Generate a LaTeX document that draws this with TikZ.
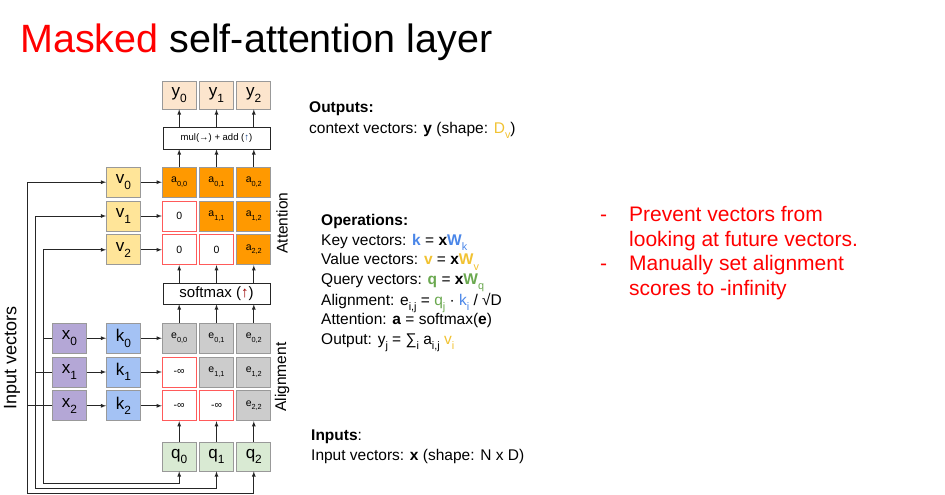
\documentclass[tikz,border=0pt]{standalone}
\usepackage{fontspec}
\setmainfont{Liberation Sans}
\usepackage{xcolor}
\usepackage{tikz}
\usetikzlibrary{matrix}
\usetikzlibrary{arrows}

\definecolor{titlered}{HTML}{FF0000}
\definecolor{edge}{HTML}{999999}
\definecolor{maskred}{HTML}{FF5A5A}
\definecolor{peach}{HTML}{FCE5CD}
\definecolor{attorange}{HTML}{FF9900}
\definecolor{vyellow}{HTML}{FFE599}
\definecolor{xpurple}{HTML}{B4A7D6}
\definecolor{kblue}{HTML}{A4C2F4}
\definecolor{egray}{HTML}{CCCCCC}
\definecolor{qgreen}{HTML}{D9EAD3}
\definecolor{kcol}{HTML}{4A86E8}
\definecolor{vgold}{HTML}{F1C232}
\definecolor{qcol}{HTML}{6AA84F}
\definecolor{arrowblue}{HTML}{1C4587}
\definecolor{arrowred}{HTML}{990000}

\makeatletter
\newcommand{\lo}[1]{\raisebox{-0.33em}{\fontsize{\strip@pt\dimexpr0.7\dimexpr\f@size pt\relax\relax}{0pt}\selectfont #1}}
\makeatother

\begin{document}
\begin{tikzpicture}[x=1pt,y=-1pt]

\tikzset{cell matrix/.style={
    matrix of nodes, column sep=2.5pt, row sep=3pt, inner sep=0pt,
    nodes={draw=edge, line width=0.8pt,
      minimum height=#1, anchor=center, text width=34pt, align=center, inner
      sep=0pt
    },
  }, cell matrix/.default=30pt,
  masked/.style={fill=white, draw=maskred},
  wide box/.style={draw=black!85, line width=0.8pt, minimum width=107pt, inner sep=0pt},
  link/.style={-latex, draw=black!85, line width=0.8pt},
  big/.style={font=\fontsize{17}{20}\selectfont},
  small/.style={font=\fontsize{10.5}{12}\selectfont},
  side label/.style={rotate=90, inner sep=0pt, font=\fontsize{15.5}{18}\selectfont},
  note/.style={anchor=north west, inner sep=0pt, align=left}
}
\path[use as bounding box] (0,0) rectangle (945,495);

\node[anchor=base west, inner sep=0pt, font=\fontsize{39.5}{47}\selectfont] (title) at (20,53)
  {\textcolor{titlered}{Masked} self-attention layer};

\matrix[cell matrix=28pt, nodes={fill=peach, big}] (out) at (216.5,95)
  {y\lo{0} & y\lo{1} & y\lo{2} \\};
\node[wide box, minimum height=22pt, font=\fontsize{9.5}{11}\selectfont] (mul) at (216.5,138)
  {mul(→) + add (\textcolor{arrowblue}{↑})};
\matrix[cell matrix, nodes={fill=attorange, small}] (att) at (216.5,216)
  {a\lo{0,0} & a\lo{0,1} & a\lo{0,2} \\
   |[masked]| 0 & a\lo{1,1} & a\lo{1,2} \\
   |[masked]| 0 & |[masked]| 0 & a\lo{2,2} \\};
\node[wide box, minimum height=21pt, font=\fontsize{15}{18}\selectfont] (sm) at (216.5,293.5)
  {softmax (\textcolor{arrowred}{↑})};
\matrix[cell matrix, nodes={fill=egray, small}] (aln) at (216.5,372)
  {e\lo{0,0} & e\lo{0,1} & e\lo{0,2} \\
   |[masked]| -∞ & e\lo{1,1} & e\lo{1,2} \\
   |[masked]| -∞ & |[masked]| -∞ & e\lo{2,2} \\};
\matrix[cell matrix=29pt, nodes={fill=qgreen, big}] (q) at (216.5,456.5)
  {q\lo{0} & q\lo{1} & q\lo{2} \\};

\matrix[cell matrix, nodes={fill=vyellow, big}] (v) at (123.5,216)
  {v\lo{0} \\ v\lo{1} \\ v\lo{2} \\};
\matrix[cell matrix, nodes={fill=kblue, big}] (k) at (123.5,372)
  {k\lo{0} \\ k\lo{1} \\ k\lo{2} \\};
\matrix[cell matrix, nodes={fill=xpurple, big}] (x) at (69.5,372)
  {x\lo{0} \\ x\lo{1} \\ x\lo{2} \\};

\node[side label] (attlabel) at (282,223) {Attention};
\node[side label] (alnlabel) at (282,377) {Alignment};
\node[side label, font=\fontsize{18}{21}\selectfont] (inlabel) at (12,358) {Input vectors};

\foreach \i in {1,2,3} {
  \draw[link] (v-\i-1) -- (att-\i-1);
  \draw[link] (x-\i-1) -- (k-\i-1);
  \draw[link] (k-\i-1) -- (aln-\i-1);
  \draw[link] (q-1-\i) -- (aln-3-\i);
  \draw[link] (aln-1-\i) -- (aln-1-\i |- sm.south);
  \draw[link] (sm.north -| att-3-\i) -- (att-3-\i);
  \draw[link] (att-1-\i) -- (att-1-\i |- mul.south);
  \draw[link] (mul.north -| out-1-\i) -- (out-1-\i);
}

\draw[link] (x-3-1.west) -- ++(-25,0) |- (v-1-1);
\draw[link] (x-3-1.west) -- ++(-25,0) -- ++(0,88) -| (q-1-3);
\draw[link] (x-2-1.west) -- ++(-16.5,0) |- (v-2-1);
\draw[link] (x-2-1.west) -- ++(-16.5,0) -- ++(0,116.5) -| (q-1-2);
\draw[link] (x-1-1.west) -- ++(-8.5,0) |- (v-3-1);
\draw[link] (x-1-1.west) -- ++(-8.5,0) -- ++(0,145) -| (q-1-1);

\node[note, font=\fontsize{15.5}{20.5}\selectfont] (outputs) at (309,101.5)
  {\textbf{Outputs:}\\ context vectors: \textbf{y} (shape: \textcolor{vgold}{D\lo{v}})};
\node[note, font=\fontsize{15.5}{19.5}\selectfont] (ops) at (321,214.5)
  {\textbf{Operations:}\\
   Key vectors: \textcolor{kcol}{\textbf{k}} = \textbf{x}\textcolor{kcol}{\textbf{W}\lo{k}}\\
   Value vectors: \textcolor{vgold}{\textbf{v}} = \textbf{x}\textcolor{vgold}{\textbf{W}\lo{v}}\\
   Query vectors: \textcolor{qcol}{\textbf{q}} = \textbf{x}\textcolor{qcol}{\textbf{W}\lo{q}}\\
   Alignment: e\lo{i,j} = \textcolor{qcol}{q\lo{j}} · \textcolor{kcol}{k\lo{i}} / √D\\
   Attention: \textbf{a} = softmax(\textbf{e})\\
   Output: y\lo{j} = ∑\lo{i} a\lo{i,j} \textcolor{vgold}{v\lo{i}}};
\node[note, font=\fontsize{15.5}{20.5}\selectfont] (inputs) at (311,429.5)
  {\textbf{Inputs}:\\ Input vectors: \textbf{x} (shape: N x D)};
\node[note, text=titlered, font=\fontsize{21}{24.5}\selectfont] (notes) at (600,206.5)
  {\makebox[29pt][l]{-}Prevent vectors from\\
   \hspace*{29pt}looking at future vectors.\\
   \makebox[29pt][l]{-}Manually set alignment\\
   \hspace*{29pt}scores to -infinity};
\end{tikzpicture}
\end{document}
